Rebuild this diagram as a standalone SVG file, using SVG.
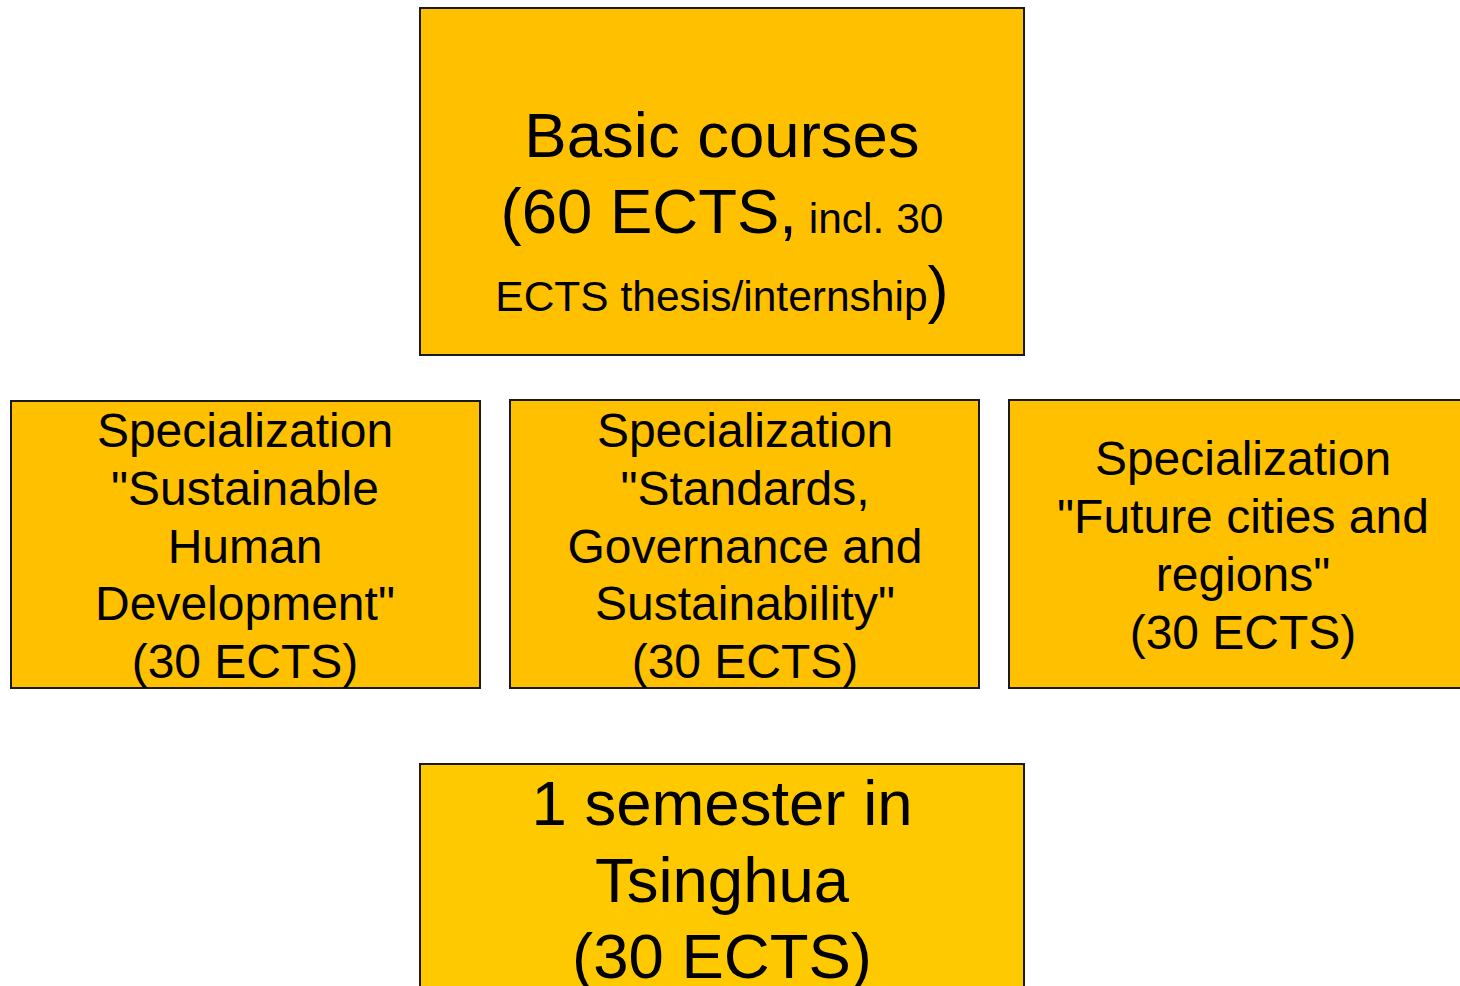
<svg xmlns="http://www.w3.org/2000/svg" width="1460" height="986" viewBox="0 0 1460 986">
<style>
.box{fill:#FFC000;stroke:#1a1a1a;stroke-width:2}
.box2{fill:#FFC900;stroke:#1a1a1a;stroke-width:2}
text{font-family:"Liberation Sans",Arial,sans-serif;fill:#000;text-anchor:middle}
.big{font-size:63.5px}
.mid{font-size:48px}
.small{font-size:42.5px}
</style>
<rect width="1460" height="986" fill="#ffffff"/>
<g id="connectors"></g>
<g id="basic">
<rect class="box" x="420" y="8" width="604" height="347"/>
<text class="big" x="722" y="157">Basic courses</text>
<text x="722" y="233"><tspan class="big">(60 ECTS,</tspan><tspan class="small"> incl. 30</tspan></text>
<text x="722" y="311"><tspan class="small">ECTS thesis/internship</tspan><tspan class="big">)</tspan></text>
</g>
<g id="spec1">
<rect class="box" x="11" y="401" width="469" height="287"/>
<text class="mid" x="245" y="447">Specialization</text>
<text class="mid" x="245" y="505">"Sustainable</text>
<text class="mid" x="245" y="563">Human</text>
<text class="mid" x="245" y="620">Development"</text>
<text class="mid" x="245" y="678">(30 ECTS)</text>
</g>
<g id="spec2">
<rect class="box" x="510" y="400" width="469" height="288"/>
<text class="mid" x="745" y="447">Specialization</text>
<text class="mid" x="745" y="505">"Standards,</text>
<text class="mid" x="745" y="563">Governance and</text>
<text class="mid" x="745" y="620">Sustainability"</text>
<text class="mid" x="745" y="678">(30 ECTS)</text>
</g>
<g id="spec3">
<rect class="box" x="1009" y="400" width="469" height="288"/>
<text class="mid" x="1243" y="475">Specialization</text>
<text class="mid" x="1243" y="533">"Future cities and</text>
<text class="mid" x="1243" y="591">regions"</text>
<text class="mid" x="1243" y="649">(30 ECTS)</text>
</g>
<g id="tsinghua">
<rect class="box2" x="420" y="764" width="604" height="240"/>
<text class="big" x="722" y="825">1 semester in</text>
<text class="big" x="722" y="902">Tsinghua</text>
<text class="big" x="722" y="978">(30 ECTS)</text>
</g>
</svg>
